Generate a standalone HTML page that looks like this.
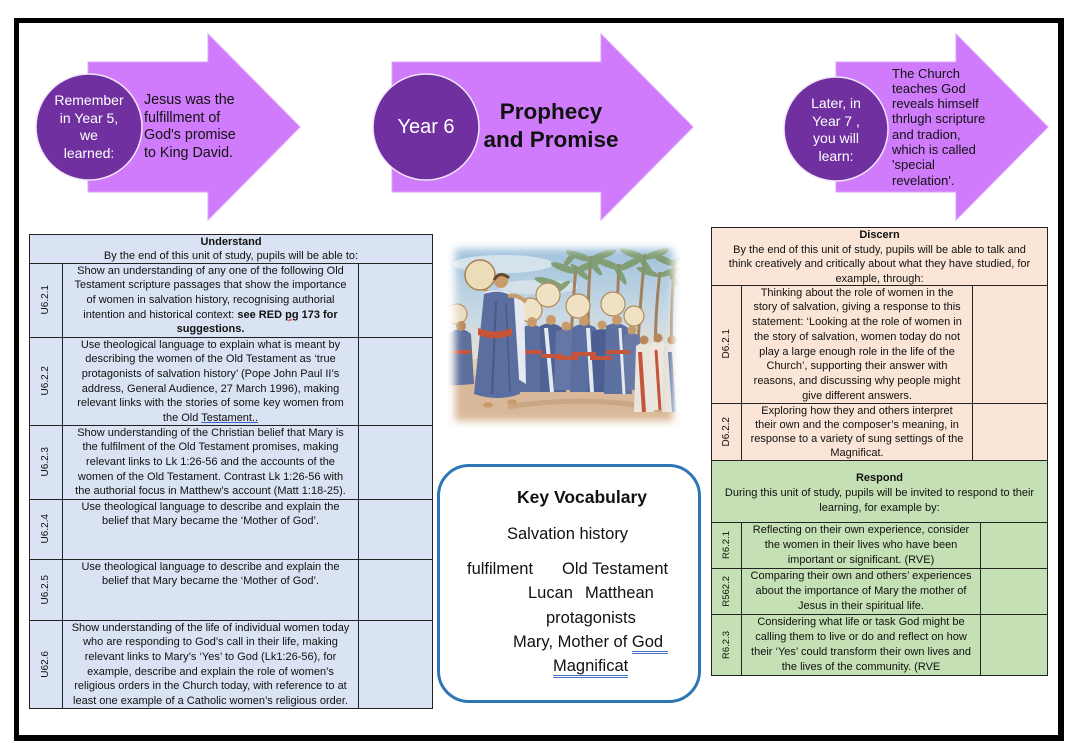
<!DOCTYPE html>
<html>
<head>
<meta charset="utf-8">
<style>
  html,body{margin:0;padding:0;background:#fff;}
  body{width:1079px;height:751px;position:relative;overflow:hidden;font-family:"Liberation Sans",Arial,sans-serif;color:#111;}
  .abs{position:absolute;}
  .frame{position:absolute;left:14px;top:18px;width:1050px;height:723px;box-sizing:border-box;border-style:solid;border-color:#000;border-width:5px 6px 6px 5px;}
  .t{position:absolute;font-size:11px;line-height:14.7px;text-align:center;white-space:nowrap;color:#111;}
  .h{position:absolute;height:1px;background:#222;}
  .v{position:absolute;width:1px;background:#222;}
  .box{position:absolute;box-sizing:border-box;border:1px solid #222;}
  .code{position:absolute;display:flex;align-items:center;justify-content:center;font-size:10px;color:#111;}
  .code span{writing-mode:vertical-rl;transform:rotate(180deg);white-space:nowrap;}
  .ctext{position:absolute;color:#fff;text-align:center;font-size:14px;line-height:17.5px;white-space:nowrap;}
  .atext{position:absolute;color:#111;font-size:14.3px;line-height:17.5px;white-space:nowrap;}
  .voc{position:absolute;font-size:16.5px;line-height:20px;white-space:pre;color:#111;}
  .dbl{border-bottom:3px double #4a72c8;}
</style>
</head>
<body>

<div class="frame"></div>

<!-- Arrows -->
<svg class="abs" style="left:0;top:0" width="1079" height="240" viewBox="0 0 1079 240">
  <polygon points="88,62 208,62 208,34 300,127 208,220 208,192 88,192" fill="#cf7bfb" stroke="#dca0fb" stroke-width="1"/>
  <polygon points="392,62 601,62 601,34 693,127 601,220 601,192 392,192" fill="#cf7bfb" stroke="#dca0fb" stroke-width="1"/>
  <polygon points="836,62 956,62 956,34 1048,127 956,220 956,192 836,192" fill="#cf7bfb" stroke="#dca0fb" stroke-width="1"/>
  <circle cx="89" cy="127" r="53" fill="#7030a0" stroke="#f2e6fa" stroke-width="1.5"/>
  <circle cx="426" cy="127" r="53" fill="#7030a0" stroke="#f2e6fa" stroke-width="1.5"/>
  <circle cx="836" cy="129" r="52" fill="#7030a0" stroke="#f2e6fa" stroke-width="1.5"/>
</svg>

<div class="ctext" style="left:37px;top:92px;width:104px;">Remember<br>in Year 5,<br>we<br>learned:</div>
<div class="atext" style="left:144px;top:92px;">Jesus was the<br>fulfillment of<br>God's promise<br>to King David.</div>

<div class="ctext" style="left:373px;top:114px;width:106px;font-size:20px;line-height:26px;">Year 6</div>
<div class="abs" style="left:471px;top:98px;width:160px;text-align:center;font-weight:bold;font-size:22.5px;line-height:28px;white-space:nowrap;color:#111;">Prophecy<br>and Promise</div>

<div class="ctext" style="left:784px;top:95px;width:104px;">Later, in<br>Year 7 ,<br>you will<br>learn:</div>
<div class="atext" style="left:892px;top:65.5px;font-size:13px;line-height:15.3px;">The Church<br>teaches God<br>reveals himself<br>thrlugh scripture<br>and tradion,<br>which is called<br>'special<br>revelation'.</div>

<!-- LEFT TABLE: Understand -->
<div class="box" style="left:29px;top:234px;width:404px;height:475px;background:#dae3f3;"></div>
<div class="h" style="left:29px;top:263px;width:404px;"></div>
<div class="h" style="left:29px;top:337px;width:404px;"></div>
<div class="h" style="left:29px;top:425px;width:404px;"></div>
<div class="h" style="left:29px;top:499px;width:404px;"></div>
<div class="h" style="left:29px;top:559px;width:404px;"></div>
<div class="h" style="left:29px;top:620px;width:404px;"></div>
<div class="v" style="left:62px;top:263px;height:445px;"></div>
<div class="v" style="left:358px;top:263px;height:445px;"></div>

<div class="t" style="left:29px;top:234.5px;width:404px;line-height:14.5px;"><b>Understand</b><br>By the end of this unit of study, pupils will be able to:</div>

<div class="code" style="left:29px;top:263px;width:33px;height:74px;"><span>U6.2.1</span></div>
<div class="t" style="left:63px;top:263.5px;width:295px;">Show an understanding of any one of the following Old<br>Testament scripture passages that show the importance<br>of women in salvation history, recognising authorial<br>intention and historical context: <b>see RED <span style="text-decoration:underline wavy #d22;">pg</span> 173 for</b><br><b>suggestions.</b></div>

<div class="code" style="left:29px;top:337px;width:33px;height:88px;"><span>U6.2.2</span></div>
<div class="t" style="left:63px;top:337.5px;width:295px;">Use theological language to explain what is meant by<br>describing the women of the Old Testament as ‘true<br>protagonists of salvation history’ (Pope John Paul II’s<br>address, General Audience, 27 March 1996), making<br>relevant links with the stories of some key women from<br>the Old <span style="text-decoration:underline;text-decoration-color:#3a5fcd;">Testament..</span></div>

<div class="code" style="left:29px;top:425px;width:33px;height:74px;"><span>U6.2.3</span></div>
<div class="t" style="left:63px;top:425.5px;width:295px;">Show understanding of the Christian belief that Mary is<br>the fulfilment of the Old Testament promises, making<br>relevant links to Lk 1:26-56 and the accounts of the<br>women of the Old Testament. Contrast Lk 1:26-56 with<br>the authorial focus in Matthew’s account (Matt 1:18-25).</div>

<div class="code" style="left:29px;top:499px;width:33px;height:60px;"><span>U6.2.4</span></div>
<div class="t" style="left:63px;top:499.5px;width:295px;">Use theological language to describe and explain the<br>belief that Mary became the ‘Mother of God’.</div>

<div class="code" style="left:29px;top:559px;width:33px;height:61px;"><span>U6.2.5</span></div>
<div class="t" style="left:63px;top:559.5px;width:295px;">Use theological language to describe and explain the<br>belief that Mary became the ‘Mother of God’.</div>

<div class="code" style="left:29px;top:620px;width:33px;height:88px;"><span>U62.6</span></div>
<div class="t" style="left:63px;top:620.5px;width:295px;">Show understanding of the life of individual women today<br>who are responding to God’s call in their life, making<br>relevant links to Mary’s ‘Yes’ to God (Lk1:26-56), for<br>example, describe and explain the role of women’s<br>religious orders in the Church today, with reference to at<br>least one example of a Catholic women’s religious order.</div>

<!-- PAINTING -->
<svg class="abs" style="left:448px;top:242px" width="232" height="186" viewBox="0 0 232 186">
  <defs>
    <linearGradient id="sky" x1="0" y1="0" x2="0" y2="1">
      <stop offset="0" stop-color="#9cc0dc"/>
      <stop offset="0.4" stop-color="#c9d9e4"/>
      <stop offset="0.65" stop-color="#ebe0cd"/>
      <stop offset="1" stop-color="#e6cfb2"/>
    </linearGradient>
    <filter id="bl" x="-20%" y="-20%" width="140%" height="140%"><feGaussianBlur stdDeviation="4"/></filter>
  </defs>
  <rect width="232" height="186" fill="url(#sky)"/>
  <ellipse cx="55" cy="22" rx="50" ry="9" fill="#dfe8ef" opacity="0.8"/>
  <ellipse cx="90" cy="45" rx="40" ry="7" fill="#e3e8ea" opacity="0.7"/>
  <path d="M0 118 L232 110 L232 140 L0 140Z" fill="#e4cdae"/>
  <path d="M0 135 Q120 126 232 138 L232 186 L0 186Z" fill="#d8b898"/>
  <path d="M60 165 Q140 152 215 168" stroke="#c49e7c" stroke-width="5" fill="none" opacity="0.7"/>
  <!-- palms -->
  <g stroke="#a2805e" stroke-width="3" fill="none">
    <path d="M122 122 Q124 70 128 25"/>
    <path d="M142 125 Q138 70 143 14"/>
    <path d="M166 122 Q169 70 171 22"/>
    <path d="M189 125 Q191 70 197 12"/>
    <path d="M208 124 Q206 80 212 30"/>
    <path d="M224 126 Q222 70 227 18"/>
  </g>
  <g fill="#7d9a6c" opacity="0.9">
    <ellipse cx="116" cy="26" rx="14" ry="3.5" transform="rotate(20 116 26)"/>
    <ellipse cx="140" cy="24" rx="14" ry="3.5" transform="rotate(-20 140 24)"/>
    <ellipse cx="122" cy="17" rx="10" ry="3" transform="rotate(-50 122 17)"/>
    <ellipse cx="132" cy="30" rx="12" ry="3" transform="rotate(40 132 30)"/>
    <ellipse cx="131" cy="14" rx="14" ry="3.5" transform="rotate(20 131 14)"/>
    <ellipse cx="155" cy="13" rx="14" ry="3.5" transform="rotate(-20 155 13)"/>
    <ellipse cx="146" cy="24" rx="12" ry="3" transform="rotate(50 146 24)"/>
    <ellipse cx="160" cy="22" rx="14" ry="3.5" transform="rotate(20 160 22)"/>
    <ellipse cx="182" cy="22" rx="14" ry="3.5" transform="rotate(-25 182 22)"/>
    <ellipse cx="172" cy="32" rx="12" ry="3" transform="rotate(60 172 32)"/>
    <ellipse cx="185" cy="12" rx="14" ry="3.5" transform="rotate(20 185 12)"/>
    <ellipse cx="208" cy="12" rx="14" ry="3.5" transform="rotate(-20 208 12)"/>
    <ellipse cx="198" cy="24" rx="12" ry="3" transform="rotate(55 198 24)"/>
    <ellipse cx="200" cy="30" rx="12" ry="3" transform="rotate(20 200 30)"/>
    <ellipse cx="222" cy="30" rx="12" ry="3" transform="rotate(-20 222 30)"/>
    <ellipse cx="216" cy="18" rx="13" ry="3.5" transform="rotate(25 216 18)"/>
    <ellipse cx="232" cy="18" rx="12" ry="3.5" transform="rotate(-25 232 18)"/>
    <ellipse cx="228" cy="40" rx="10" ry="3" transform="rotate(50 228 40)"/>
    <ellipse cx="100" cy="40" rx="14" ry="3.5" transform="rotate(15 100 40)"/>
    <ellipse cx="112" cy="46" rx="12" ry="3" transform="rotate(-35 112 46)"/>
  </g>
  <!-- left small figures -->
  <circle cx="9" cy="72" r="10" fill="#eadcc0" stroke="#b89060" stroke-width="1.2"/>
  <path d="M1 92 Q12 82 23 92 L26 142 L-1 144Z" fill="#5d6f9c"/>
  <rect x="2" y="108" width="21" height="4" fill="#c4553b"/>
  <circle cx="13" cy="84" r="5" fill="#b88a5c"/>
  <!-- middle group -->
  <g>
    <circle cx="82" cy="68" r="12" fill="#efe2c4" stroke="#b08a5a" stroke-width="1.2"/>
    <circle cx="100" cy="53" r="12" fill="#efe2c4" stroke="#b08a5a" stroke-width="1.2"/>
    <circle cx="130" cy="64" r="12" fill="#efe2c4" stroke="#b08a5a" stroke-width="1.2"/>
    <circle cx="165" cy="62" r="12" fill="#efe2c4" stroke="#b08a5a" stroke-width="1.2"/>
    <circle cx="186" cy="74" r="10" fill="#efe2c4" stroke="#b08a5a" stroke-width="1.2"/>
    <path d="M74 86 Q84 80 94 86 L97 150 L70 150Z" fill="#5a6e9f"/>
    <path d="M92 84 Q104 78 114 86 L118 150 L92 150Z" fill="#4f6395"/>
    <path d="M108 90 Q118 84 128 90 L132 148 L106 148Z" fill="#6677a6"/>
    <path d="M124 86 Q136 78 148 86 L150 150 L122 150Z" fill="#5a6e9f"/>
    <path d="M144 90 Q154 84 164 90 L166 150 L140 150Z" fill="#4b5f92"/>
    <path d="M158 84 Q170 78 180 86 L184 152 L156 152Z" fill="#5d70a2"/>
    <path d="M176 94 Q184 88 192 94 L194 148 L174 148Z" fill="#6a7aa6"/>
    <path d="M98 86 L104 150" stroke="#e4e8ef" stroke-width="4"/>
    <path d="M140 86 L144 150" stroke="#e4e8ef" stroke-width="4"/>
    <path d="M172 86 L176 152" stroke="#e4e8ef" stroke-width="3"/>
    <g fill="#c4553b">
      <rect x="72" y="108" width="22" height="4"/>
      <rect x="93" y="112" width="22" height="4"/>
      <rect x="108" y="114" width="22" height="4"/>
      <rect x="124" y="110" width="24" height="4"/>
      <rect x="142" y="114" width="22" height="4"/>
      <rect x="158" y="108" width="24" height="4"/>
    </g>
    <g fill="#c99a6a">
      <circle cx="84" cy="80" r="5"/>
      <circle cx="103" cy="78" r="5"/>
      <circle cx="118" cy="84" r="4.5"/>
      <circle cx="136" cy="79" r="5"/>
      <circle cx="154" cy="83" r="4.5"/>
      <circle cx="169" cy="78" r="5"/>
      <circle cx="184" cy="88" r="4.5"/>
    </g>
  </g>
  <!-- right figures -->
  <path d="M188 104 Q196 98 204 104 L206 170 L186 170Z" fill="#e9e4dc"/>
  <path d="M202 102 Q210 96 218 102 L220 168 L200 168Z" fill="#ebe6de"/>
  <path d="M216 104 Q224 98 232 104 L232 170 L214 170Z" fill="#e6e1d8"/>
  <path d="M192 110 L196 170" stroke="#c4553b" stroke-width="4"/>
  <path d="M208 108 L212 168" stroke="#c4553b" stroke-width="3"/>
  <path d="M222 110 L226 170" stroke="#5a6e9f" stroke-width="4"/>
  <circle cx="196" cy="98" r="4.5" fill="#b8875a"/>
  <circle cx="210" cy="96" r="4.5" fill="#b8875a"/>
  <circle cx="224" cy="98" r="4.5" fill="#b8875a"/>
  <!-- leading figure -->
  <path d="M40 52 L32 38" stroke="#c99a6a" stroke-width="4" stroke-linecap="round"/>
  <circle cx="32" cy="33" r="15" fill="#ecdcb8" stroke="#a88050" stroke-width="1.5"/>
  <path d="M36 50 Q60 44 76 60 L78 142 L62 132 Z" fill="#e6eaf0"/>
  <path d="M36 52 Q54 46 66 56 L72 152 Q50 160 26 152 Z" fill="#5a6e9f"/>
  <path d="M48 60 L44 152" stroke="#45598a" stroke-width="2"/>
  <path d="M58 62 L62 150" stroke="#45598a" stroke-width="1.5"/>
  <path d="M30 86 Q48 93 64 86 L64 93 Q48 100 30 93Z" fill="#c4553b"/>
  <circle cx="53" cy="39" r="7" fill="#c99a6a"/>
  <path d="M46 38 Q52 28 61 36" stroke="#6b4526" stroke-width="3" fill="none"/>
  <path d="M60 54 Q70 52 78 60" stroke="#c99a6a" stroke-width="4" fill="none"/>
  <ellipse cx="40" cy="163" rx="5" ry="2.5" fill="#c99a6a"/>
  <ellipse cx="64" cy="160" rx="5" ry="2.5" fill="#c99a6a"/>
  <!-- feathered edge -->
  <rect x="0" y="0" width="232" height="186" fill="none" stroke="#fff" stroke-width="14" filter="url(#bl)"/>
</svg>

<!-- KEY VOCABULARY -->
<div class="abs" style="left:437px;top:464px;width:264px;height:239px;box-sizing:border-box;border:3px solid #2e75b6;border-radius:32px;"></div>
<div class="voc" style="left:517px;top:487px;font-weight:bold;font-size:17.5px;">Key Vocabulary</div>
<div class="voc" style="left:507px;top:524px;">Salvation history</div>
<div class="voc" style="left:467px;top:559px;">fulfilment</div>
<div class="voc" style="left:562px;top:559px;">Old Testament</div>
<div class="voc" style="left:528px;top:583px;">Lucan</div>
<div class="voc" style="left:585px;top:583px;">Matthean</div>
<div class="voc" style="left:546px;top:608px;">protagonists</div>
<div class="voc" style="left:513px;top:632px;">Mary, Mother of <span class="dbl">God </span></div>
<div class="voc" style="left:553px;top:656px;"><span class="dbl">Magnificat</span></div>

<!-- RIGHT TABLE: Discern -->
<div class="box" style="left:711px;top:227px;width:337px;height:234px;background:#fbe5d6;"></div>
<div class="h" style="left:711px;top:285px;width:337px;"></div>
<div class="h" style="left:711px;top:403px;width:337px;"></div>
<div class="v" style="left:741px;top:285px;height:175px;"></div>
<div class="v" style="left:972px;top:285px;height:175px;"></div>

<div class="t" style="left:711px;top:228px;width:337px;line-height:14.5px;"><b>Discern</b><br>By the end of this unit of study, pupils will be able to talk and<br>think creatively and critically about what they have studied, for<br>example, through:</div>

<div class="code" style="left:711px;top:285px;width:30px;height:118px;"><span>D6.2.1</span></div>
<div class="t" style="left:742px;top:285.5px;width:230px;line-height:14.75px;">Thinking about the role of women in the<br>story of salvation, giving a response to this<br>statement: ‘Looking at the role of women in<br>the story of salvation, women today do not<br>play a large enough role in the life of the<br>Church’, supporting their answer with<br>reasons, and discussing why people might<br>give different answers.</div>

<div class="code" style="left:711px;top:403px;width:30px;height:57px;"><span>D6.2.2</span></div>
<div class="t" style="left:742px;top:403.5px;width:230px;line-height:14.25px;">Exploring how they and others interpret<br>their own and the composer’s meaning, in<br>response to a variety of sung settings of the<br>Magnificat.</div>

<!-- RIGHT TABLE: Respond -->
<div class="box" style="left:711px;top:460px;width:337px;height:216px;background:#c5e0b4;"></div>
<div class="h" style="left:711px;top:522px;width:337px;"></div>
<div class="h" style="left:711px;top:568px;width:337px;"></div>
<div class="h" style="left:711px;top:614px;width:337px;"></div>
<div class="v" style="left:741px;top:522px;height:153px;"></div>
<div class="v" style="left:980px;top:522px;height:153px;"></div>

<div class="t" style="left:711px;top:470.5px;width:337px;line-height:15px;"><b>Respond</b><br>During this unit of study, pupils will be invited to respond to their<br>learning, for example by:</div>

<div class="code" style="left:711px;top:522px;width:30px;height:46px;font-size:9.5px;"><span>R6.2.1</span></div>
<div class="t" style="left:742px;top:522.5px;width:238px;line-height:15.3px;">Reflecting on their own experience, consider<br>the women in their lives who have been<br>important or significant. (RVE)</div>

<div class="code" style="left:711px;top:568px;width:30px;height:46px;font-size:9.5px;"><span>R562.2</span></div>
<div class="t" style="left:742px;top:568.5px;width:238px;line-height:15.3px;">Comparing their own and others’ experiences<br>about the importance of Mary the mother of<br>Jesus in their spiritual life.</div>

<div class="code" style="left:711px;top:614px;width:30px;height:61px;font-size:9.5px;"><span>R6.2.3</span></div>
<div class="t" style="left:742px;top:614.5px;width:238px;line-height:15.2px;">Considering what life or task God might be<br>calling them to live or do and reflect on how<br>their ‘Yes’ could transform their own lives and<br>the lives of the community. (RVE</div>

</body>
</html>
